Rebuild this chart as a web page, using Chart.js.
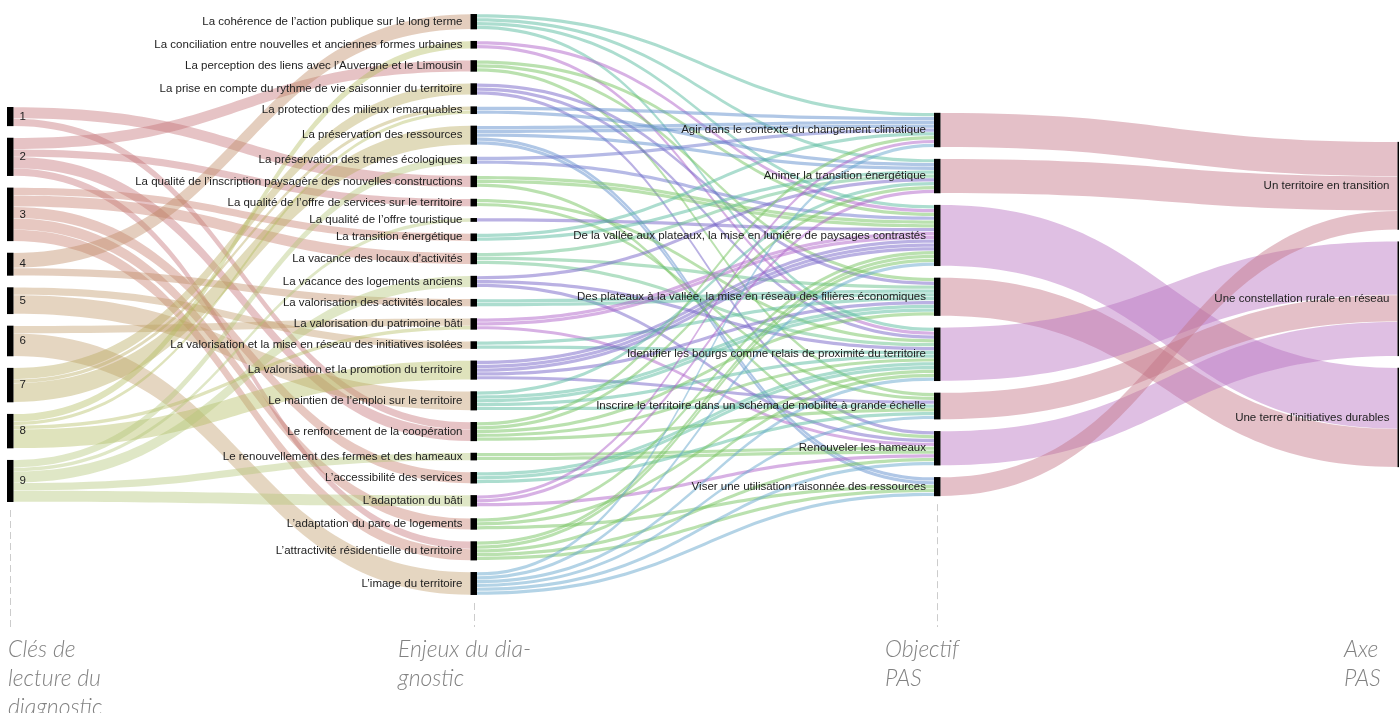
<!DOCTYPE html>
<html><head><meta charset="utf-8">
<script src="https://cdn.jsdelivr.net/npm/chart.js@4.4.0/dist/chart.umd.min.js"></script>
<style>
html,body{margin:0;padding:0;background:#fff;overflow:hidden}
#wrap{position:relative;width:1399px;height:713px;overflow:hidden}
#c{position:absolute;left:0;top:0}
.ttl{position:absolute;font-family:Lato,"Open Sans",sans-serif;font-style:italic;font-weight:300;font-size:23px;line-height:29px;color:#828282;white-space:nowrap}
</style></head><body>
<div id="wrap">
<canvas id="c" width="1399" height="713"></canvas>
<div class="ttl" style="left:8px;top:634px">Clés de<br>lecture du<br>diagnostic</div>
<div class="ttl" style="left:398px;top:634px">Enjeux du dia-<br>gnostic</div>
<div class="ttl" style="left:885px;top:634px">Objectif<br>PAS</div>
<div class="ttl" style="left:1344px;top:634px">Axe<br>PAS</div>
</div>
<script>
// ---------- DATA ----------
const cles = ['1','2','3','4','5','6','7','8','9'];
const enjeux = [
 "La cohérence de l’action publique sur le long terme",
 "La conciliation entre nouvelles et anciennes formes urbaines",
 "La perception des liens avec l’Auvergne et le Limousin",
 "La prise en compte du rythme de vie saisonnier du territoire",
 "La protection des milieux remarquables",
 "La préservation des ressources",
 "La préservation des trames écologiques",
 "La qualité de l’inscription paysagère des nouvelles constructions",
 "La qualité de l’offre de services sur le territoire",
 "La qualité de l’offre touristique",
 "La transition énergétique",
 "La vacance des locaux d'activités",
 "La vacance des logements anciens",
 "La valorisation des activités locales",
 "La valorisation du patrimoine bâti",
 "La valorisation et la mise en réseau des initiatives isolées",
 "La valorisation et la promotion du territoire",
 "Le maintien de l’emploi sur le territoire",
 "Le renforcement de la coopération",
 "Le renouvellement des fermes et des hameaux",
 "L’accessibilité des services",
 "L’adaptation du bâti",
 "L’adaptation du parc de logements",
 "L’attractivité résidentielle du territoire",
 "L’image du territoire"
];
const objectifs = [
 "Agir dans le contexte du changement climatique",
 "Animer la transition énergétique",
 "De la vallée aux plateaux, la mise en lumière de paysages contrastés",
 "Des plateaux à la vallée, la mise en réseau des filières économiques",
 "Identifier les bourgs comme relais de proximité du territoire",
 "Inscrire le territoire dans un schéma de mobilité à grande échelle",
 "Renouveler les hameaux",
 "Viser une utilisation raisonnée des ressources"
];
const axes = ["Un territoire en transition","Une constellation rurale en réseau","Une terre d'initiatives durables"];

// [source, target, value]
const liensClesEnjeux = [
 [0,7,3],[0,18,2],
 [1,2,3],[1,8,2],[1,18,3],[1,23,2],
 [2,10,2],[2,11,3],[2,20,3],[2,22,3],[2,23,3],
 [3,0,4],[3,13,2],
 [4,15,2],[4,17,5],
 [5,14,2],[5,24,6],
 [6,3,3],[6,4,1],[6,5,5],
 [7,1,2],[7,4,1],[7,14,1],[7,16,5],
 [8,6,2],[8,9,1],[8,12,3],[8,19,2],[8,21,3]
];
const liensEnjeuxObjectifs = [
 [0,0,1],[0,1,1],[0,2,1],[0,4,1],
 [1,2,1],[1,4,1],
 [2,2,1],[2,3,1],[2,5,1],
 [3,3,1],[3,4,1],[3,6,1],
 [4,0,1],[4,1,1],
 [5,0,2],[5,1,1],[5,7,2],
 [6,0,1],[6,2,1],
 [7,2,2],[7,6,1],
 [8,4,1],[8,5,1],
 [9,2,1],
 [10,0,1],[10,1,1],
 [11,1,1],[11,3,1],[11,4,1],
 [12,1,1],[12,4,1],[12,6,1],
 [13,3,2],
 [14,2,2],[14,6,1],
 [15,3,1],[15,4,1],
 [16,2,3],[16,3,1],[16,5,1],
 [17,1,1],[17,3,2],[17,4,1],[17,5,1],
 [18,0,1],[18,1,1],[18,3,1],[18,4,1],[18,5,1],
 [19,6,2],
 [20,4,2],[20,5,1],
 [21,0,1],[21,1,1],[21,6,1],
 [22,2,1],[22,4,1],[22,7,1],
 [23,2,2],[23,4,1],[23,6,1],[23,7,1],
 [24,0,1],[24,2,1],[24,4,1],[24,5,1],[24,6,1],[24,7,1]
];
const liensObjectifsAxes = [
 [0,0,9],[1,0,9],[2,2,16],[3,2,10],[4,1,14],[5,1,7],[6,1,9],[7,0,5]
];

// ---------- STYLES ----------
const colClesLinks = [
 'rgba(196,112,116,0.42)','rgba(196,112,116,0.42)','rgba(198,124,108,0.42)',
 'rgba(190,138,100,0.42)','rgba(194,152,106,0.42)','rgba(194,158,108,0.42)',
 'rgba(184,170,92,0.42)','rgba(178,188,96,0.42)','rgba(178,198,118,0.42)'
];
const TEAL='rgba(90,188,160,0.5)', PURP='rgba(176,100,202,0.5)', GREEN='rgba(118,196,96,0.5)',
      VIOL='rgba(118,100,200,0.5)', BLUE='rgba(98,144,206,0.5)', LBLUE='rgba(104,168,206,0.5)';
const colEnjeuxLinks = [TEAL,PURP,GREEN,VIOL,BLUE,BLUE,'rgba(110,118,206,0.5)',GREEN,GREEN,VIOL,
 TEAL,'rgba(104,194,140,0.5)',VIOL,TEAL,PURP,TEAL,VIOL,TEAL,GREEN,GREEN,TEAL,PURP,GREEN,GREEN,LBLUE];
const PINK='rgba(196,116,134,0.45)', MAUVE='rgba(184,114,194,0.45)';
const colObjLinks = [PINK,PINK,MAUVE,PINK,MAUVE,PINK,MAUVE,PINK];

const UNIT_PX = 3.823;          // pixels per unit
const GAP = 3.04;               // node padding (units)
const CENTER = 79.65;           // vertical centre (units)
const NODE_W = 0.014;           // node width (x units)

const columns = [cles, enjeux, objectifs, axes];
const linkSets = [liensClesEnjeux, liensEnjeuxObjectifs, liensObjectifsAxes];
const linkColors = [colClesLinks, colEnjeuxLinks, colObjLinks];

function layout(){
  const nodes = columns.map((names,c)=>names.map((n,i)=>({name:n,c,i,inV:0,outV:0,ins:[],outs:[]})));
  const links=[];
  linkSets.forEach((set,c)=>set.forEach(([s,t,v])=>{
    const L={c,s:nodes[c][s],t:nodes[c+1][t],v,color:linkColors[c][s]};
    L.s.outV+=v; L.t.inV+=v; L.s.outs.push(L); L.t.ins.push(L); links.push(L);
  }));
  nodes.forEach(col=>{
    col.forEach(n=>n.v=Math.max(n.inV,n.outV));
    const total=col.reduce((a,n)=>a+n.v,0)+GAP*(col.length-1);
    let y=CENTER-total/2;
    col.forEach(n=>{n.y0=y;n.y1=y+n.v;y=n.y1+GAP;});
  });
  nodes.forEach(col=>col.forEach(n=>{
    n.outs.sort((a,b)=>a.t.y0-b.t.y0);
    let y=n.y0; n.outs.forEach(L=>{L.sy=y;y+=L.v;});
    n.ins.sort((a,b)=>a.s.y0-b.s.y0);
    y=n.y0; n.ins.forEach(L=>{L.ty=y;y+=L.v;});
  }));
  return {nodes,links};
}
const LAY = layout();

function ribbon(ctx,x0,x1,a0,b0,a1,b1,color){
  const xm=(x0+x1)/2;
  ctx.beginPath();
  ctx.moveTo(x0,a0); ctx.bezierCurveTo(xm,a0,xm,a1,x1,a1);
  ctx.lineTo(x1,b1); ctx.bezierCurveTo(xm,b1,xm,b0,x0,b0);
  ctx.closePath(); ctx.fillStyle=color; ctx.fill();
}

const sankeyPlugin = {
  id:'sankey',
  beforeDatasetsDraw(chart){
    const {ctx,scales:{x,y}}=chart;
    ctx.save();
    // dashed guides
    ctx.strokeStyle='#cccccc'; ctx.lineWidth=1; ctx.setLineDash([7,4]);
    LAY.nodes.forEach((col,c)=>{
      const last=col[col.length-1];
      const px=Math.round(x.getPixelForValue(c+NODE_W/2))+0.5;
      ctx.beginPath(); ctx.moveTo(px,y.getPixelForValue(last.y1)+8); ctx.lineTo(px,627); ctx.stroke();
    });
    ctx.setLineDash([]);
    // links
    LAY.links.forEach(L=>{
      const x0=x.getPixelForValue(L.c+NODE_W), x1=x.getPixelForValue(L.c+1);
      if(L.c===1){
        for(let k=0;k<L.v;k++){
          const ins=0.3;
          ribbon(ctx,x0,x1,
            y.getPixelForValue(L.sy+k)+ins,y.getPixelForValue(L.sy+k+1)-ins,
            y.getPixelForValue(L.ty+k)+ins,y.getPixelForValue(L.ty+k+1)-ins,L.color);
        }
      } else {
        const ins=0.2;
        ribbon(ctx,x0,x1,
          y.getPixelForValue(L.sy)+ins,y.getPixelForValue(L.sy+L.v)-ins,
          y.getPixelForValue(L.ty)+ins,y.getPixelForValue(L.ty+L.v)-ins,L.color);
      }
    });
    // nodes
    ctx.fillStyle='#000';
    LAY.nodes.forEach((col,c)=>col.forEach(n=>{
      const l=x.getPixelForValue(c), r=x.getPixelForValue(c+NODE_W);
      const t=y.getPixelForValue(n.y0), b=y.getPixelForValue(n.y1);
      ctx.fillRect(l,t,r-l,b-t);
    }));
    // labels
    ctx.font='11.5px "Liberation Sans", Arial, sans-serif';
    ctx.fillStyle='#222'; ctx.textBaseline='middle';
    LAY.nodes.forEach((col,c)=>col.forEach(n=>{
      const ym=y.getPixelForValue((n.y0+n.y1)/2);
      if(c===0){ ctx.textAlign='left'; ctx.fillText(n.name,x.getPixelForValue(c+NODE_W)+6,ym); }
      else { ctx.textAlign='right'; ctx.fillText(n.name,x.getPixelForValue(c)-8,ym); }
    }));
    ctx.restore();
  }
};

const pts=[];
LAY.nodes.forEach((col,c)=>col.forEach(n=>pts.push({x:c,y:(n.y0+n.y1)/2})));

new Chart(document.getElementById('c'),{
  type:'scatter',
  data:{datasets:[{data:pts,pointRadius:0,pointHoverRadius:0}]},
  options:{
    responsive:false,animation:false,events:[],
    layout:{padding:0},
    plugins:{legend:{display:false},tooltip:{enabled:false}},
    scales:{
      x:{type:'linear',display:false,min:-7/463.5,max:-7/463.5+1399/463.5},
      y:{type:'linear',display:false,reverse:true,min:0,max:713/UNIT_PX}
    }
  },
  plugins:[sankeyPlugin]
});
</script>
</body></html>
